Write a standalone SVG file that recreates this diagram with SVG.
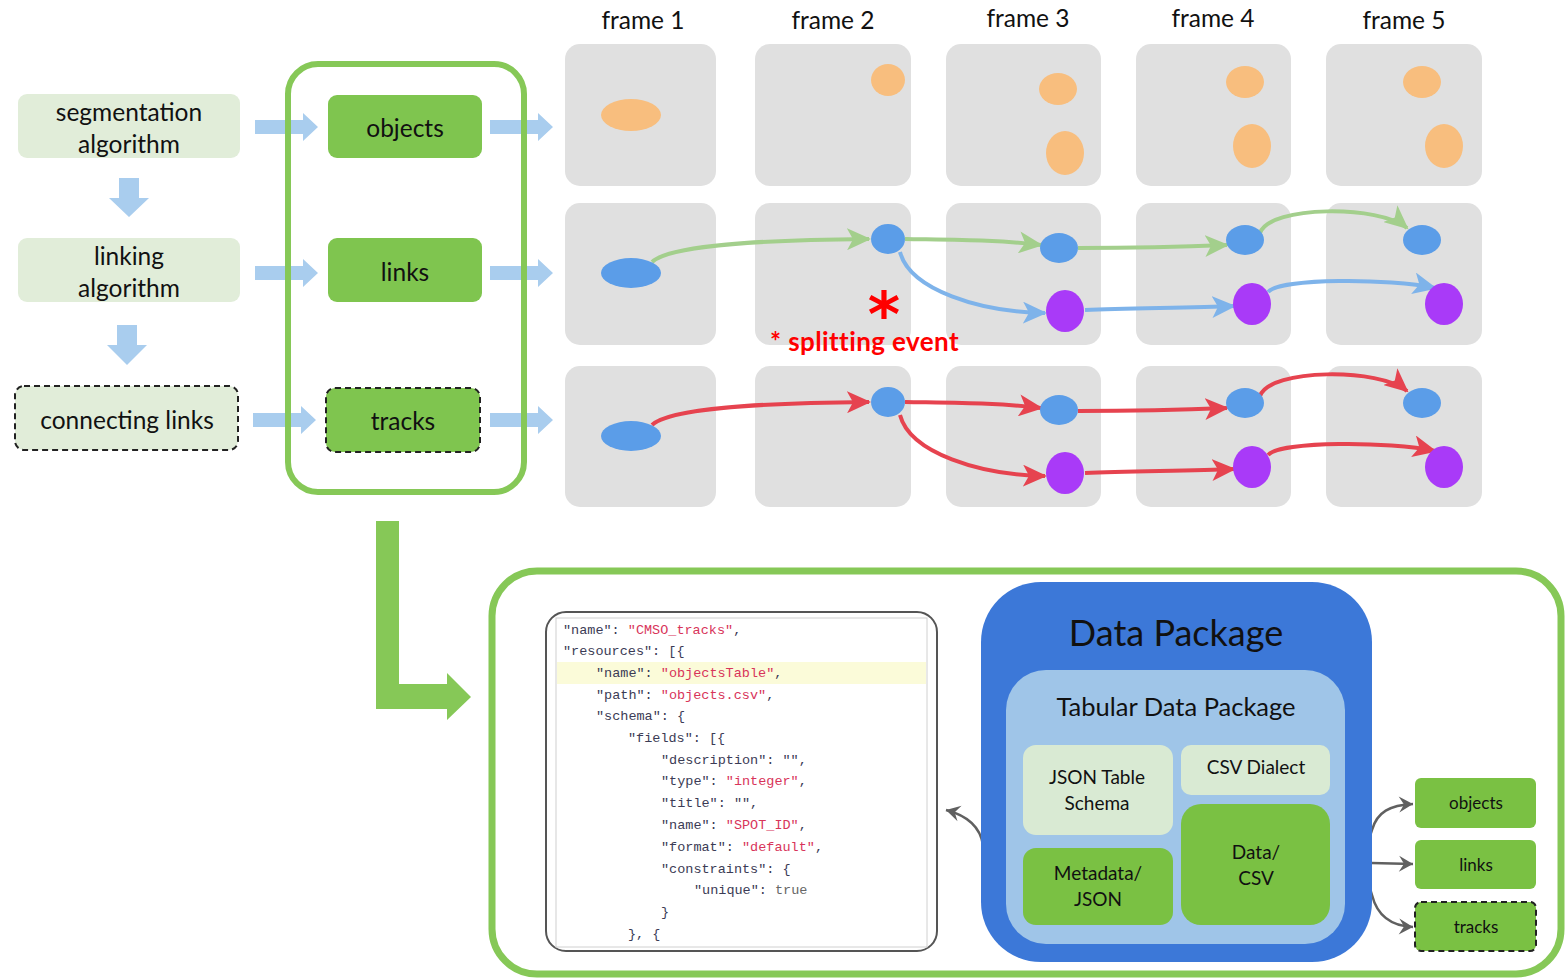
<svg xmlns="http://www.w3.org/2000/svg" width="1566" height="978" viewBox="0 0 1566 978">
<style>
.t{font-family:Lato,"Open Sans",sans-serif;fill:#111;text-anchor:middle}
.frame{fill:#e0e0e0}
.org{fill:#f8be7e}
.blu{fill:#5b9de8}
.pur{fill:#a93af8}
.lbox{fill:#e1edd9}
.gbox{fill:#7fc54f}
.dash{stroke:#222;stroke-width:2;stroke-dasharray:6 4}
.barrow{fill:#a9cdee}
.gl{fill:none;stroke:#a3cf8c;stroke-width:4}
.bl{fill:none;stroke:#7eb3ea;stroke-width:4}
.rl{fill:none;stroke:#e6434f;stroke-width:4}
.gy{fill:none;stroke:#606060;stroke-width:2.5}
.code{font-family:"Liberation Mono","DejaVu Sans Mono",monospace;font-size:13.5px;fill:#3b3b55}
.s{fill:#d8345a}
</style>
<defs>
<marker id="mg" viewBox="0 0 24 22" refX="22" refY="11" markerWidth="24" markerHeight="22" markerUnits="userSpaceOnUse" orient="auto"><path d="M0,0 L24,11 L0,22 L6,11 z" fill="#a3cf8c"/></marker>
<marker id="mb" viewBox="0 0 24 22" refX="22" refY="11" markerWidth="24" markerHeight="22" markerUnits="userSpaceOnUse" orient="auto"><path d="M0,0 L24,11 L0,22 L6,11 z" fill="#7eb3ea"/></marker>
<marker id="mr" viewBox="0 0 24 22" refX="22" refY="11" markerWidth="24" markerHeight="22" markerUnits="userSpaceOnUse" orient="auto"><path d="M0,0 L24,11 L0,22 L6,11 z" fill="#e6434f"/></marker>
<marker id="mgy" viewBox="0 0 18 18" refX="16" refY="9" markerWidth="18" markerHeight="18" markerUnits="userSpaceOnUse" orient="auto"><path d="M2,1 L16,9 L2,17 L7,9 z" fill="#606060"/></marker>
</defs>
<rect width="1566" height="978" fill="#fff"/>

<!-- frame labels -->
<g id="frame-labels" font-size="24.5">
<text class="t" x="643" y="29">frame 1</text>
<text class="t" x="833" y="29">frame 2</text>
<text class="t" x="1028" y="27">frame 3</text>
<text class="t" x="1213" y="27">frame 4</text>
<text class="t" x="1404" y="29">frame 5</text>
</g>

<!-- frames -->
<g id="frames">
<rect class="frame" x="565" y="44" width="151" height="142" rx="15"/>
<rect class="frame" x="755" y="44" width="156" height="142" rx="15"/>
<rect class="frame" x="946" y="44" width="155" height="142" rx="15"/>
<rect class="frame" x="1136" y="44" width="155" height="142" rx="15"/>
<rect class="frame" x="1326" y="44" width="156" height="142" rx="15"/>
<rect class="frame" x="565" y="203" width="151" height="142" rx="15"/>
<rect class="frame" x="755" y="203" width="156" height="142" rx="15"/>
<rect class="frame" x="946" y="203" width="155" height="142" rx="15"/>
<rect class="frame" x="1136" y="203" width="155" height="142" rx="15"/>
<rect class="frame" x="1326" y="203" width="156" height="142" rx="15"/>
<rect class="frame" x="565" y="366" width="151" height="141" rx="15"/>
<rect class="frame" x="755" y="366" width="156" height="141" rx="15"/>
<rect class="frame" x="946" y="366" width="155" height="141" rx="15"/>
<rect class="frame" x="1136" y="366" width="155" height="141" rx="15"/>
<rect class="frame" x="1326" y="366" width="156" height="141" rx="15"/>
</g>

<!-- objects row -->
<g id="objects-row">
<ellipse class="org" cx="631" cy="115" rx="30" ry="16"/>
<ellipse class="org" cx="888" cy="80" rx="17" ry="16"/>
<ellipse class="org" cx="1058" cy="89" rx="19" ry="16"/>
<ellipse class="org" cx="1065" cy="153" rx="19" ry="22"/>
<ellipse class="org" cx="1245" cy="82" rx="19" ry="16"/>
<ellipse class="org" cx="1252" cy="146" rx="19" ry="22"/>
<ellipse class="org" cx="1422" cy="82" rx="19" ry="16"/>
<ellipse class="org" cx="1444" cy="146" rx="19" ry="22"/>
</g>

<!-- connectors -->
<g id="connectors">
<path class="gl" d="M652,262 C670,245 760,240 869,239" marker-end="url(#mg)"/>
<path class="gl" d="M905,239 C960,240 1000,240 1041,245" marker-end="url(#mg)"/>
<path class="gl" d="M1078,248 C1130,248 1180,247 1227,245" marker-end="url(#mg)"/>
<path class="gl" d="M1260,233 C1270,205 1380,205 1407,228" marker-end="url(#mg)"/>
<path class="bl" d="M900,252 C910,290 980,312 1045,313" marker-end="url(#mb)"/>
<path class="bl" d="M1085,310 C1130,308 1190,308 1234,306" marker-end="url(#mb)"/>
<path class="bl" d="M1268,292 C1280,278 1390,278 1435,288" marker-end="url(#mb)"/>
<path class="rl" d="M652,425 C670,408 760,403 869,402" marker-end="url(#mr)"/>
<path class="rl" d="M905,402 C960,403 1000,403 1041,408" marker-end="url(#mr)"/>
<path class="rl" d="M1078,411 C1130,411 1180,410 1227,408" marker-end="url(#mr)"/>
<path class="rl" d="M1260,396 C1270,368 1380,368 1407,391" marker-end="url(#mr)"/>
<path class="rl" d="M900,415 C910,453 980,475 1045,476" marker-end="url(#mr)"/>
<path class="rl" d="M1085,473 C1130,471 1190,471 1234,469" marker-end="url(#mr)"/>
<path class="rl" d="M1268,455 C1280,441 1390,441 1435,451" marker-end="url(#mr)"/>
<!-- block arrows -->
<polygon class="barrow" points="119,178 139,178 139,198 149,198 129,217 109,198 119,198"/>
<polygon class="barrow" points="117,325 137,325 137,345 147,345 127,365 107,345 117,345"/>
<polygon class="barrow" points="255,120 303,120 303,113 318,127 303,141 303,134 255,134"/>
<polygon class="barrow" points="255,266 303,266 303,259 318,273 303,287 303,280 255,280"/>
<polygon class="barrow" points="253,413 301,413 301,406 316,420 301,434 301,427 253,427"/>
<polygon class="barrow" points="490,120 538,120 538,113 553,127 538,141 538,134 490,134"/>
<polygon class="barrow" points="490,266 538,266 538,259 553,273 538,287 538,280 490,280"/>
<polygon class="barrow" points="490,413 538,413 538,406 553,420 538,434 538,427 490,427"/>
<polygon fill="#86c857" points="376,521 399,521 399,684 447,684 447,673 471,697 447,720 447,709 376,709"/>
<path class="gy" d="M1025,887 C990,885 985,860 983,845 C980,825 965,815 946,810" marker-end="url(#mgy)"/>
<path class="gy" d="M1330,862 C1360,860 1368,845 1372,830 C1377,812 1390,805 1413,804" marker-end="url(#mgy)"/>
<path class="gy" d="M1330,862 L1413,864" marker-end="url(#mgy)"/>
<path class="gy" d="M1330,862 C1360,862 1368,880 1372,895 C1377,915 1390,926 1413,927" marker-end="url(#mgy)"/>
</g>

<!-- links row ellipses -->
<g id="links-row">
<ellipse class="blu" cx="631" cy="273" rx="30" ry="15"/>
<ellipse class="blu" cx="888" cy="239" rx="17" ry="15"/>
<ellipse class="blu" cx="1059" cy="248" rx="19" ry="15"/>
<ellipse class="blu" cx="1245" cy="240" rx="19" ry="15"/>
<ellipse class="blu" cx="1422" cy="240" rx="19" ry="15"/>
<ellipse class="pur" cx="1065" cy="311" rx="19" ry="21"/>
<ellipse class="pur" cx="1252" cy="304" rx="19" ry="21"/>
<ellipse class="pur" cx="1444" cy="304" rx="19" ry="21"/>
</g>
<g id="tracks-row">
<ellipse class="blu" cx="631" cy="436" rx="30" ry="15"/>
<ellipse class="blu" cx="888" cy="402" rx="17" ry="15"/>
<ellipse class="blu" cx="1059" cy="410" rx="19" ry="15"/>
<ellipse class="blu" cx="1245" cy="403" rx="19" ry="15"/>
<ellipse class="blu" cx="1422" cy="403" rx="19" ry="15"/>
<ellipse class="pur" cx="1065" cy="473" rx="19" ry="21"/>
<ellipse class="pur" cx="1252" cy="467" rx="19" ry="21"/>
<ellipse class="pur" cx="1444" cy="467" rx="19" ry="21"/>
</g>

<g id="splitting-event">
<text x="884" y="336" font-family="'DejaVu Sans',sans-serif" font-weight="bold" font-size="62" fill="#ff0000" text-anchor="middle">*</text>
<text x="770" y="351" font-family="Lato,'Open Sans',sans-serif" font-weight="bold" font-size="26" fill="#ff0000" letter-spacing="0.4">* splitting event</text>
</g>

<!-- left nodes -->
<g id="segmentation-algorithm">
<rect class="lbox" x="18" y="94" width="222" height="64" rx="9"/>
<text class="t" x="129" y="121" font-size="24.5">segmentation</text>
<text class="t" x="129" y="153" font-size="24.5">algorithm</text>
</g>
<g id="linking-algorithm">
<rect class="lbox" x="18" y="238" width="222" height="64" rx="9"/>
<text class="t" x="129" y="265" font-size="24.5">linking</text>
<text class="t" x="129" y="297" font-size="24.5">algorithm</text>
</g>
<g id="connecting-links">
<rect class="lbox dash" x="15" y="386" width="223" height="64" rx="9"/>
<text class="t" x="127" y="429" font-size="24.5">connecting links</text>
</g>

<g id="output-container">
<rect x="288" y="64" width="236" height="428" rx="30" fill="none" stroke="#86c857" stroke-width="6"/>
</g>
<g id="objects">
<rect class="gbox" x="328" y="95" width="154" height="63" rx="9"/>
<text class="t" x="405" y="137" font-size="24.5">objects</text>
</g>
<g id="links">
<rect class="gbox" x="328" y="238" width="154" height="64" rx="9"/>
<text class="t" x="405" y="281" font-size="24.5">links</text>
</g>
<g id="tracks">
<rect class="gbox dash" x="326" y="388" width="154" height="64" rx="9"/>
<text class="t" x="403" y="430" font-size="24.5">tracks</text>
</g>

<!-- bottom -->
<g id="bottom-container">
<rect x="492" y="571" width="1069" height="403" rx="45" fill="none" stroke="#86c857" stroke-width="7"/>
</g>

<g id="json-code">
<rect x="546" y="612" width="391" height="339" rx="20" fill="#fff" stroke="#555" stroke-width="2"/>
<rect x="556" y="618" width="371" height="329" fill="none" stroke="#d0d0d0" stroke-width="1"/>
<rect x="557" y="662" width="369" height="22" fill="#fbfbd9"/>
<text class="code" x="563" y="634">"name": <tspan class="s">"CMSO_tracks"</tspan>,</text>
<text class="code" x="563" y="655">"resources": [{</text>
<text class="code" x="596" y="677">"name": <tspan class="s">"objectsTable"</tspan>,</text>
<text class="code" x="596" y="699">"path": <tspan class="s">"objects.csv"</tspan>,</text>
<text class="code" x="596" y="720">"schema": {</text>
<text class="code" x="628" y="742">"fields": [{</text>
<text class="code" x="661" y="764">"description": "",</text>
<text class="code" x="661" y="785">"type": <tspan class="s">"integer"</tspan>,</text>
<text class="code" x="661" y="807">"title": "",</text>
<text class="code" x="661" y="829">"name": <tspan class="s">"SPOT_ID"</tspan>,</text>
<text class="code" x="661" y="851">"format": <tspan class="s">"default"</tspan>,</text>
<text class="code" x="661" y="873">"constraints": {</text>
<text class="code" x="694" y="894">"unique": <tspan fill="#666">true</tspan></text>
<text class="code" x="661" y="916">}</text>
<text class="code" x="628" y="938">}, {</text>
</g>

<g id="data-package">
<rect x="981" y="582" width="391" height="380" rx="60" fill="#3c78d8"/>
<text class="t" x="1176" y="646" font-size="36">Data Package</text>
</g>
<g id="tabular-data-package">
<rect x="1006" y="670" width="339" height="274" rx="40" fill="#9fc5e8"/>
<text class="t" x="1176" y="716" font-size="25.5">Tabular Data Package</text>
</g>
<g id="json-table-schema">
<rect x="1023" y="745" width="150" height="90" rx="13" fill="#d9ead3"/>
<text class="t" x="1097" y="784" font-size="19">JSON Table</text>
<text class="t" x="1097" y="810" font-size="19">Schema</text>
</g>
<g id="csv-dialect">
<rect x="1181" y="745" width="149" height="50" rx="10" fill="#d9ead3"/>
<text class="t" x="1256" y="774" font-size="19">CSV Dialect</text>
</g>
<g id="metadata-json">
<rect x="1023" y="848" width="150" height="77" rx="13" fill="#7ac143"/>
<text class="t" x="1098" y="880" font-size="19">Metadata/</text>
<text class="t" x="1098" y="906" font-size="19">JSON</text>
</g>
<g id="data-csv">
<rect x="1181" y="804" width="149" height="121" rx="20" fill="#7ac143"/>
<text class="t" x="1256" y="859" font-size="19">Data/</text>
<text class="t" x="1256" y="885" font-size="19">CSV</text>
</g>
<g id="out-objects">
<rect x="1415" y="778" width="121" height="50" rx="6" fill="#7ac143"/>
<text class="t" x="1476" y="809" font-size="17">objects</text>
</g>
<g id="out-links">
<rect x="1415" y="840" width="121" height="49" rx="6" fill="#7ac143"/>
<text class="t" x="1476" y="871" font-size="17">links</text>
</g>
<g id="out-tracks">
<rect x="1415" y="902" width="121" height="49" rx="6" fill="#7ac143" stroke="#222" stroke-width="2" stroke-dasharray="6 4"/>
<text class="t" x="1476" y="933" font-size="17">tracks</text>
</g>
</svg>
